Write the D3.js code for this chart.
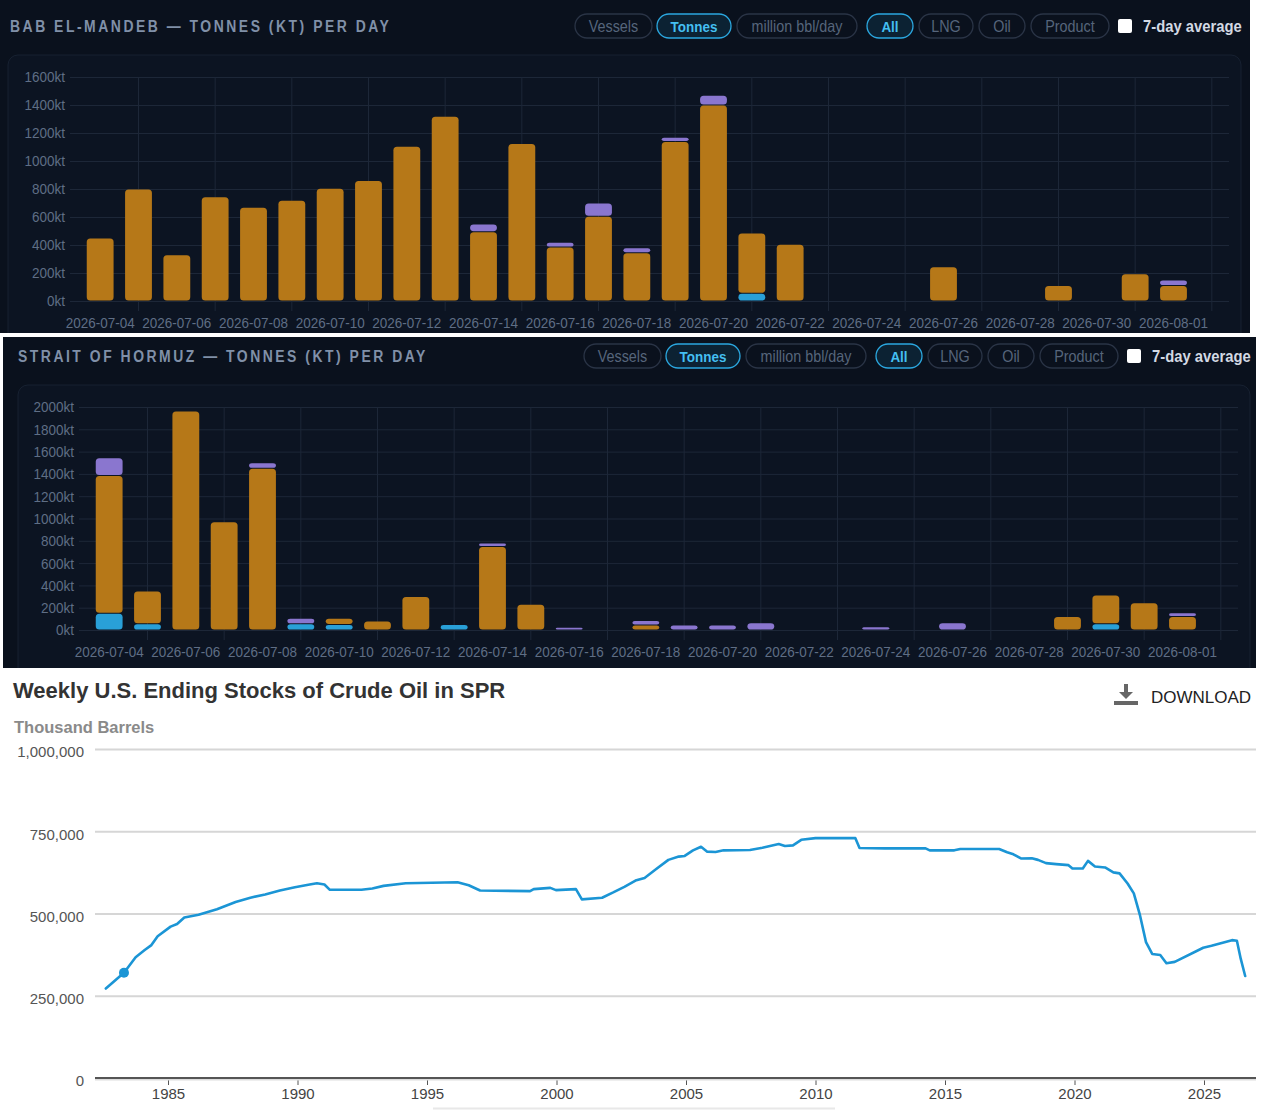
<!DOCTYPE html>
<html>
<head>
<meta charset="utf-8">
<script src="https://cdn.jsdelivr.net/npm/d3@7"></script>
<style>
  html, body { margin: 0; padding: 0; background: #fff; }
  svg { display: block; }
</style>
</head>
<body>
<div id="chart"></div>
<script>
// ---- data ----
var days = ["2026-07-04","2026-07-05","2026-07-06","2026-07-07","2026-07-08","2026-07-09",
  "2026-07-10","2026-07-11","2026-07-12","2026-07-13","2026-07-14","2026-07-15","2026-07-16",
  "2026-07-17","2026-07-18","2026-07-19","2026-07-20","2026-07-21","2026-07-22","2026-07-23",
  "2026-07-24","2026-07-25","2026-07-26","2026-07-27","2026-07-28","2026-07-29","2026-07-30",
  "2026-07-31","2026-08-01","2026-08-02"];

// Bab el-Mandeb, kt per day
var babLng     = [0,0,0,0,0,0,0,0,0,0,0,0,0,0,0,0,0,55,0,0,0,0,0,0,0,0,0,0,0,0];
var babOil     = [450,800,330,745,670,720,805,860,1105,1320,495,1125,385,605,345,1140,1400,430,405,0,0,0,245,0,0,110,0,195,110,0];
var babProduct = [0,0,0,0,0,0,0,0,0,0,55,0,35,95,35,30,70,0,0,0,0,0,0,0,0,0,0,0,40,0];

// Strait of Hormuz, kt per day
var horLng     = [150,55,0,0,0,55,50,0,0,50,0,0,0,0,0,0,0,0,0,0,0,0,0,0,0,0,55,0,0,0];
var horOil     = [1235,295,1965,970,1450,0,55,80,300,0,750,230,0,0,45,0,0,0,0,0,0,0,0,0,0,120,260,245,120,0];
var horProduct = [160,0,0,0,50,50,0,0,0,0,30,0,25,0,40,45,45,65,0,0,30,0,65,0,0,0,0,0,35,0];

var babTicks = [0,200,400,600,800,1000,1200,1400,1600];
var horTicks = [0,200,400,600,800,1000,1200,1400,1600,1800,2000];

var buttons = ["Vessels","Tonnes","million bbl/day","All","LNG","Oil","Product"];
var activeButtons = ["Tonnes","All"];

// Weekly U.S. ending stocks of crude oil in SPR, thousand barrels
var sprYears = [1982.60,1983.30,1983.75,1984.10,1984.36,1984.60,1985.10,1985.35,1985.63,1986.18,
  1986.89,1987.61,1988.18,1988.75,1989.32,1989.90,1990.47,1990.75,1991.04,1991.25,1992.47,1992.89,
  1993.32,1994.18,1996.18,1996.61,1997.05,1998.98,1999.12,1999.76,1999.98,2000.75,2000.98,2001.76,
  2002.19,2002.62,2003.05,2003.40,2003.85,2004.32,2004.72,2004.95,2005.27,2005.58,2005.82,2006.14,
  2006.45,2007.47,2007.95,2008.58,2008.82,2009.13,2009.45,2010.00,2011.54,2011.70,2012.68,2014.25,
  2014.41,2015.36,2015.59,2017.09,2017.40,2017.64,2017.95,2018.35,2018.59,2018.90,2019.29,2019.77,
  2019.92,2020.32,2020.52,2020.79,2021.18,2021.50,2021.74,2022.05,2022.29,2022.53,2022.76,2023.00,
  2023.31,2023.55,2023.87,2024.97,2025.29,2026.08,2026.27,2026.42,2026.59];
var sprStocks = [272000,320000,367000,389000,404000,431000,460000,468000,488000,496000,
  513000,535000,548000,558000,570000,580000,588000,592000,588000,572000,572000,576000,
  584000,592000,595000,586000,570000,568000,574000,578000,571000,574000,543000,548000,
  564000,581000,600000,608000,635000,663000,673000,675000,692000,703000,688000,687000,
  692000,693000,700000,711000,705000,707000,724000,729000,729000,699000,698000,698000,
  692000,692000,696000,696000,686000,680000,667000,668000,663000,653000,650000,647000,
  637000,637000,660000,643000,640000,625000,622000,591000,561000,494000,413000,377000,
  374000,349000,353000,396000,402000,419000,417000,362000,310000];
var sprYTicks = [0,250000,500000,750000,1000000];
var sprXTicks = [1985,1990,1995,2000,2005,2010,2015,2020,2025];

// ---- setup ----
var W = 1280, H = 1110;
var sans = "'Liberation Sans',Arial,Helvetica,sans-serif";
var colors = { lng: '#29a0d8', oil: '#b67818', product: '#8a76cf' };

var svg = d3.select('#chart').append('svg')
  .attr('width', W).attr('height', H)
  .style('background', '#fff');

// the dashboard uses a condensed face, so squeeze the glyphs horizontally
function squeeze(sel, k) {
  sel.each(function() {
    var len = this.getComputedTextLength();
    this.setAttribute('textLength', len * k);
    this.setAttribute('lengthAdjust', 'spacingAndGlyphs');
  });
}

// pill geometry (left, right) for the button row
var pillX = [[575,652],[657,731],[737,857],[867,913],[919,973],[979,1025],[1031,1109]];

function straitPanel(p) {
  var g = svg.append('g');
  var clipId = 'clip' + p.id;
  svg.append('defs').append('clipPath').attr('id', clipId)
    .append('rect').attr('x', p.bg[0]).attr('y', p.bg[1]).attr('width', p.bg[2]).attr('height', p.bg[3]);
  g.attr('clip-path', 'url(#' + clipId + ')');

  g.append('rect')
    .attr('x', p.bg[0]).attr('y', p.bg[1]).attr('width', p.bg[2]).attr('height', p.bg[3])
    .attr('fill', '#0a111d');
  g.append('rect')
    .attr('x', p.card[0]).attr('y', p.card[1]).attr('width', p.card[2]).attr('height', p.card[3])
    .attr('rx', 10)
    .attr('fill', '#0c1422').attr('stroke', '#172131');

  // title
  g.append('text')
    .attr('x', p.titleX).attr('y', p.titleY)
    .attr('font-family', sans)
    .attr('font-weight', 700).attr('font-size', '16px')
    .attr('letter-spacing', '2.9px')
    .attr('fill', '#8090a8')
    .text(p.title)
    .call(squeeze, 0.87);

  // buttons
  var by = p.btnY;
  var pills = g.append('g');
  buttons.forEach(function(b, i) {
    var on = activeButtons.indexOf(b) >= 0;
    var x0 = pillX[i][0] + p.btnDx, x1 = pillX[i][1] + p.btnDx;
    pills.append('rect')
      .attr('x', x0).attr('y', by).attr('width', x1 - x0).attr('height', 24).attr('rx', 12)
      .attr('fill', on ? '#0c2233' : 'none')
      .attr('stroke', on ? '#2ba7df' : '#2a3446').attr('stroke-width', 1.3);
    pills.append('text')
      .attr('x', (x0 + x1) / 2).attr('y', by + 17.5)
      .attr('text-anchor', 'middle')
      .attr('font-family', sans).attr('font-size', on ? '15.5px' : '16.5px')
      .attr('font-weight', on ? 700 : 400)
      .attr('fill', on ? '#44bff2' : '#56657b')
      .text(b)
      .call(squeeze, 0.87);
  });
  pills.append('rect')
    .attr('x', 1118 + p.btnDx).attr('y', by + 5).attr('width', 14).attr('height', 14).attr('rx', 2)
    .attr('fill', '#fff');
  pills.append('text')
    .attr('x', 1143 + p.btnDx).attr('y', by + 17.5)
    .attr('font-family', sans).attr('font-size', '17px').attr('font-weight', 700)
    .attr('fill', '#d3d9e3')
    .text('7-day average')
    .call(squeeze, 0.87);

  // scales
  var x = d3.scaleBand().domain(days).range(p.xRange).paddingInner(0.3).paddingOuter(0.15);
  var y = d3.scaleLinear().domain([0, p.ticks[p.ticks.length - 1]]).range(p.yRange);

  // horizontal grid + y labels
  var yAxis = g.append('g')
    .attr('transform', 'translate(' + p.gridX[0] + ',0)')
    .call(d3.axisLeft(y).tickValues(p.ticks)
      .tickSize(-(p.gridX[1] - p.gridX[0])).tickPadding(5)
      .tickFormat(function(d) { return d + 'kt'; }));
  yAxis.select('.domain').remove();
  yAxis.selectAll('line').attr('stroke', '#1d2738');
  yAxis.selectAll('text')
    .attr('font-family', sans).attr('font-size', '15.5px').attr('fill', '#5f6e85')
    .call(squeeze, 0.87);

  // vertical grid on odd days
  g.append('g').selectAll('line')
    .data(days.filter(function(d, i) { return i % 2 === 1; }))
    .join('line')
    .attr('x1', function(d) { return x(d) + x.bandwidth() / 2; })
    .attr('x2', function(d) { return x(d) + x.bandwidth() / 2; })
    .attr('y1', p.yRange[1]).attr('y2', p.yRange[0] + 10)
    .attr('stroke', '#1d2738');

  // x labels
  var xAxis = g.append('g')
    .attr('transform', 'translate(0,' + p.yRange[0] + ')')
    .call(d3.axisBottom(x)
      .tickValues(days.filter(function(d, i) { return i % 2 === 0 && i < 29; }))
      .tickSize(0).tickPadding(16));
  xAxis.select('.domain').remove();
  xAxis.selectAll('text')
    .attr('font-family', sans).attr('font-size', '15.5px').attr('fill', '#5f6e85')
    .call(squeeze, 0.87);

  // stacked bars
  var rows = days.map(function(d, i) {
    return { day: d, lng: p.lng[i], oil: p.oil[i], product: p.product[i] };
  });
  var stacked = d3.stack().keys(['lng', 'oil', 'product'])(rows);
  g.append('g').selectAll('g')
    .data(stacked)
    .join('g')
    .attr('fill', function(s) { return colors[s.key]; })
    .selectAll('rect')
    .data(function(s) { return s.filter(function(d) { return d[1] - d[0] > 0; }); })
    .join('rect')
    .attr('x', function(d) { return x(d.data.day); })
    .attr('width', x.bandwidth())
    .attr('y', function(d) { return y(d[1]) + 0.5; })
    .attr('height', function(d) { return Math.max(1, y(d[0]) - y(d[1]) - 1); })
    .attr('rx', function(d) { return Math.min(3.5, (y(d[0]) - y(d[1])) / 2); });
}

straitPanel({
  id: 1, title: 'BAB EL-MANDEB \u2014 TONNES (KT) PER DAY',
  bg: [0, 0, 1250, 333], card: [8, 55, 1233, 300],
  titleX: 10, titleY: 32, btnY: 14, btnDx: 0,
  xRange: [81, 1231], yRange: [301, 77], gridX: [70, 1229],
  ticks: babTicks, lng: babLng, oil: babOil, product: babProduct
});

straitPanel({
  id: 2, title: 'STRAIT OF HORMUZ \u2014 TONNES (KT) PER DAY',
  bg: [3, 337, 1253, 331], card: [18, 385, 1232, 300],
  titleX: 18, titleY: 362, btnY: 344, btnDx: 9,
  xRange: [90, 1240], yRange: [630, 407], gridX: [79, 1238],
  ticks: horTicks, lng: horLng, oil: horOil, product: horProduct
});

// ---- SPR line chart ----
var spr = svg.append('g');
var sx = d3.scaleLinear().domain([1985, 2025]).range([168, 1204]);
var sy = d3.scaleLinear().domain([0, 1000000]).range([1078, 749]);

spr.append('text')
  .attr('x', 13).attr('y', 698)
  .attr('font-family', sans).attr('font-weight', 700).attr('font-size', '22px')
  .attr('fill', '#333')
  .text('Weekly U.S. Ending Stocks of Crude Oil in SPR');

spr.append('text')
  .attr('x', 14).attr('y', 733)
  .attr('font-family', sans).attr('font-weight', 700).attr('font-size', '16.5px')
  .attr('fill', '#8a8a8a')
  .text('Thousand Barrels');

// download button
var dl = spr.append('g').attr('fill', '#666');
dl.append('rect').attr('x', 1124).attr('y', 684).attr('width', 4).attr('height', 9);
dl.append('path').attr('d', 'M1119,692 L1133,692 L1126,699 Z');
dl.append('rect').attr('x', 1114).attr('y', 701).attr('width', 24).attr('height', 4);
spr.append('text')
  .attr('x', 1151).attr('y', 703)
  .attr('font-family', sans).attr('font-size', '17px')
  .attr('fill', '#222')
  .text('DOWNLOAD');

// grid + y labels
var syAxis = spr.append('g')
  .attr('transform', 'translate(95,0)')
  .call(d3.axisLeft(sy).tickValues(sprYTicks).tickSize(-(1256 - 95)).tickPadding(11)
    .tickFormat(d3.format(',')));
syAxis.select('.domain').remove();
syAxis.selectAll('line').attr('stroke', '#d6d6d6').attr('stroke-width', 2);
syAxis.selectAll('text')
  .attr('y', 3)
  .attr('font-family', sans).attr('font-size', '15px').attr('fill', '#555');
syAxis.selectAll('.tick').filter(function(d) { return d === 0; }).select('line').remove();

// x axis
var sxAxis = spr.append('g')
  .attr('transform', 'translate(0,1078)')
  .call(d3.axisBottom(sx).tickValues(sprXTicks).tickSize(7).tickPadding(3).tickFormat(d3.format('d')));
sxAxis.select('.domain').remove();
sxAxis.selectAll('line').attr('stroke', '#555');
sxAxis.selectAll('text')
  .attr('font-family', sans).attr('font-size', '15px').attr('fill', '#444');
spr.append('line')
  .attr('x1', 95).attr('x2', 1256).attr('y1', 1079.5).attr('y2', 1079.5)
  .attr('stroke', '#ddd').attr('stroke-width', 2);
spr.append('line')
  .attr('x1', 95).attr('x2', 1256).attr('y1', 1078).attr('y2', 1078)
  .attr('stroke', '#555').attr('stroke-width', 2);

// line
var sprData = sprYears.map(function(yr, i) { return [yr, sprStocks[i]]; });
spr.append('path')
  .datum(sprData)
  .attr('fill', 'none')
  .attr('stroke', '#1b95d5').attr('stroke-width', 2.6)
  .attr('stroke-linejoin', 'round').attr('stroke-linecap', 'round')
  .attr('d', d3.line()
    .x(function(d) { return sx(d[0]); })
    .y(function(d) { return sy(d[1]); }));

spr.append('circle')
  .attr('cx', sx(sprYears[1])).attr('cy', sy(sprStocks[1])).attr('r', 5)
  .attr('fill', '#1b95d5');

// scrollbar trace under the axis
spr.append('line')
  .attr('x1', 433).attr('x2', 835).attr('y1', 1108.5).attr('y2', 1108.5)
  .attr('stroke', '#e8e8e8').attr('stroke-width', 2);
</script>
</body>
</html>
